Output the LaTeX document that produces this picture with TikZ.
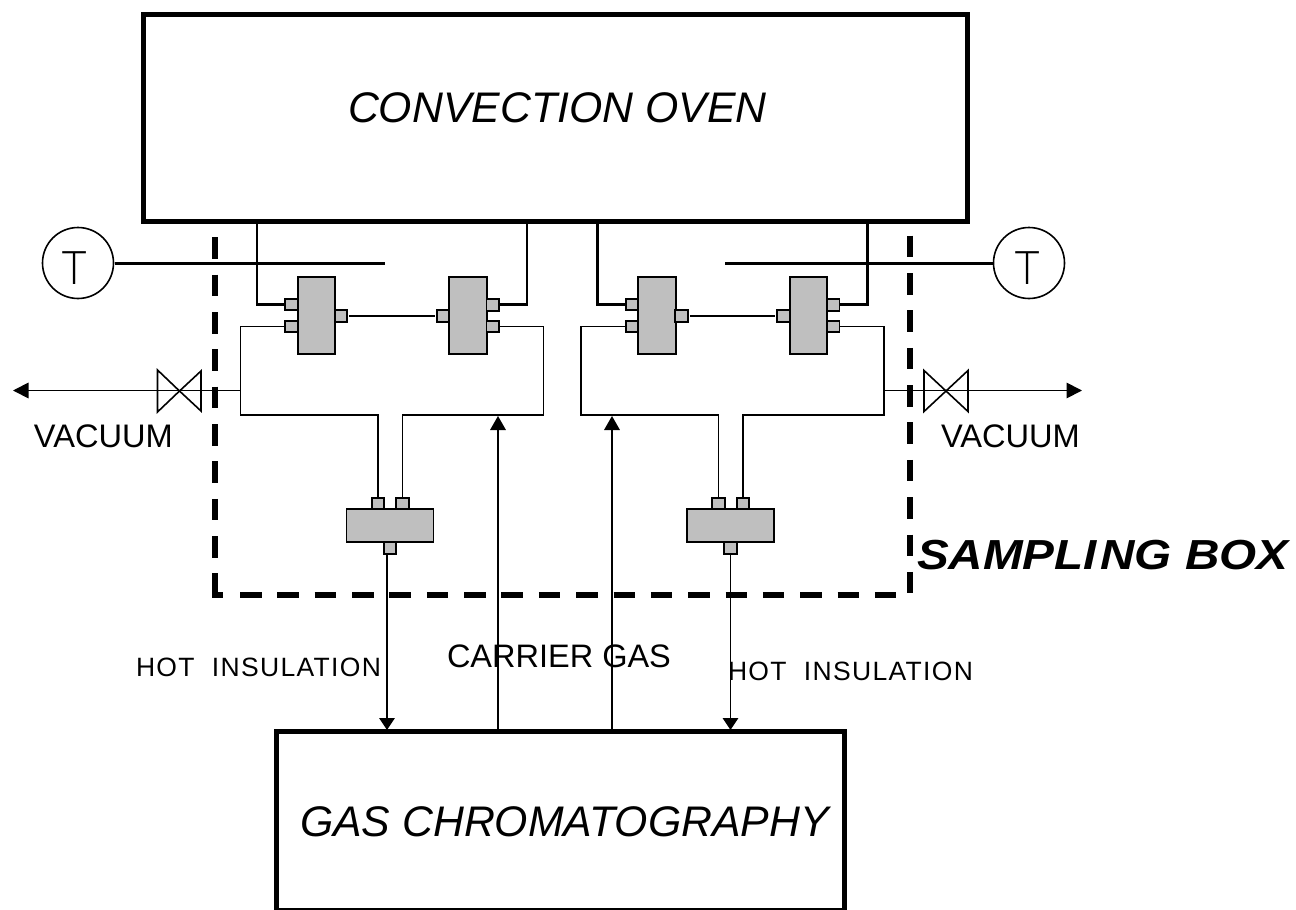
\documentclass[tikz,border=0pt]{standalone}
\usepackage{graphicx}
\usepackage{fontspec}
\setmainfont{Liberation Sans}
\newfontfamily\thinfont{Open Sans Light}
\usetikzlibrary{arrows.meta}
\definecolor{partgray}{HTML}{BFBFBF}
\tikzset{
  bigbox/.style={draw,line width=5pt,inner sep=0pt,outer sep=0pt},
  part/.style={draw,fill=partgray,line width=1.9pt,inner sep=0pt,outer sep=0pt,minimum width=#1},
  bodyv/.style={part=37.5pt,minimum height=77pt},
  bodyh/.style={part=87pt,minimum height=33pt},
  port/.style={part=12.5pt,minimum height=11.5pt},
  probe/.style={circle,draw,line width=1.6pt,minimum size=71pt,inner sep=0pt,outer sep=0pt},
  heavy/.style={line width=2.8pt},
  light/.style={line width=1.8pt},
  flow/.style={line width=1.8pt,-{Triangle[length=#1,width=15.5pt]}},
  flow/.default=14pt,
  boundary/.style={line width=5.2pt,dash pattern=on 21.5pt off 15.85pt},
  foot/.style={line width=5.2pt},
  valveshape/.style={line width=1.6pt},
  lab/.style={inner sep=0pt,outer sep=0pt,anchor=base west},
  title/.style={lab,font=\fontsize{42.8}{43}\selectfont\itshape},
  tag/.style={lab,font=\fontsize{32.6}{33}\selectfont},
  small/.style={lab,font=\fontsize{26.5}{27}\selectfont\addfontfeature{LetterSpace=5}},
  probetext/.style={inner sep=0pt,outer sep=0pt,font=\fontsize{46}{46}\thinfont},
}
\newcommand{\samplerunit}{%
  \node[bodyv] (b1) at (316.3,315.5) {};
  \node[bodyv] (b2) at (467.8,315.5) {};
  \node[port] (b1a) at (291.5,304.5) {};
  \node[port] (b1b) at (291.5,326.5) {};
  \node[port] (b1c) at (341,315.8) {};
  \node[port] (b2c) at (443,315.8) {};
  \node[port] (b2a) at (492.7,304.8) {};
  \node[port] (b2b) at (492.7,326.5) {};
  \node[bodyh] (sw) at (390,525.8) {};
  \node[port] (s1) at (378,503.5) {};
  \node[port] (s2) at (402.5,503.5) {};
  \node[port] (s3) at (390,548) {};
  \coordinate (ta) at (257,222);
  \coordinate (tb) at (527,222);
  \coordinate (ca) at (240.5,415);
  \coordinate (cb) at (543.5,415);
  \draw[heavy] (ta) |- (b1a.west);
  \draw[heavy] (tb) |- (b2a.east);
  \draw[light] ([xshift=2pt]b1c.east) -- ([xshift=-2pt]b2c.west);
  \draw[light] (b1b.west) -| (ca) -| (s1.north);
  \draw[light] (b2b.east) -| (cb) -| (s2.north);
}
\begin{document}
\begin{tikzpicture}[x=1pt,y=-1pt]
\useasboundingbox (0,0) rectangle (1296,910);
% boundary of sampling box
\coordinate (sbA) at (215,237.3);
\coordinate (sbB) at (215,595);
\coordinate (sbF) at (212.4,595);
\coordinate (sbG) at (223,595);
\coordinate (sbH) at (240,595);
\coordinate (sbI) at (897,595);
\coordinate (sbJ) at (910,235.7);
\coordinate (sbK) at (910,593.5);
\draw[boundary] (sbA) -- (sbB);
\draw[foot] (sbF) -- (sbG);
\draw[boundary] (sbH) -- (sbI);
\draw[boundary] (sbJ) -- (sbK);
% main boxes
\draw[bigbox] (143.3,14.7) rectangle (967,221.7);
\draw[bigbox] (276,731.5) rectangle (844,910.5);
\begin{scope}[name prefix=L-]
\samplerunit
\end{scope}
\begin{scope}[xshift=340.5pt,name prefix=R-]
\samplerunit
\end{scope}
% temperature probes
\node[probe] (tl) at (78,263) {};
\node[probe] (tr) at (1029,263) {};
\node[probetext] (tlt) at (75,268) {T};
\node[probetext] (trt) at (1028,268) {T};
\coordinate (tle) at (385,263.3);
\coordinate (tre) at (725,263.3);
\draw[heavy] (tl.east) ++(1,0.3) -- (tle);
\draw[heavy] (tr.west) ++(-1,0.3) -- (tre);
% vacuum lines
\coordinate (vl) at (179.5,391);
\coordinate (vr) at (946,391);
\coordinate (vlj) at (240.5,390.5);
\coordinate (vrj) at (884,390.5);
\coordinate (vlt) at (13,390.5);
\coordinate (vrt) at (1082,390.5);
\draw[flow=15.5pt] (vlj) -- (vlt);
\draw[flow=15.5pt] (vrj) -- (vrt);
\draw[valveshape] (vl) -- ++(-22,-21) -- ++(0,42) -- cycle;
\draw[valveshape] (vl) -- ++(21.5,-20) -- ++(0,40) -- cycle;
\draw[valveshape] (vr) -- ++(-22,-20.5) -- ++(0,41) -- cycle;
\draw[valveshape] (vr) -- ++(22,-20.5) -- ++(0,41) -- cycle;
% flows to and from the chromatograph
\coordinate (g1) at (387,730);
\coordinate (g2) at (498,730);
\coordinate (g3) at (612,730);
\coordinate (g4) at (730.5,730);
\coordinate (u2) at (498,416);
\coordinate (u3) at (612,416);
\draw[flow=12pt] (L-s3.south -| g1) -- (g1);
\draw[flow] (g2) -- (u2);
\draw[flow] (g3) -- (u3);
\draw[flow=12pt] (R-s3.south) -- (g4);
% labels
\node[title] (n1) at (348,122) {CONVECTION OVEN};
\node[title] (n2) at (300,836) {GAS CHROMATOGRAPHY};
\node[tag] (n3) at (34,447) {VACUUM};
\node[tag] (n4) at (941,447) {VACUUM};
\node[lab,font=\fontsize{42}{42}\selectfont\bfseries\itshape] (n5) at (917,569.5) {\scalebox{1.135}[1]{SAMPLI\kern3pt NG BOX}};
\node[small] (n6) at (136,676) {HOT\ \ INSULATION};
\node[small] (n7) at (728,680.7) {HOT\ \ INSULATION};
\node[lab,font=\fontsize{32.5}{33}\selectfont] (n8) at (447,667) {CARRIER GAS};
\end{tikzpicture}
\end{document}
